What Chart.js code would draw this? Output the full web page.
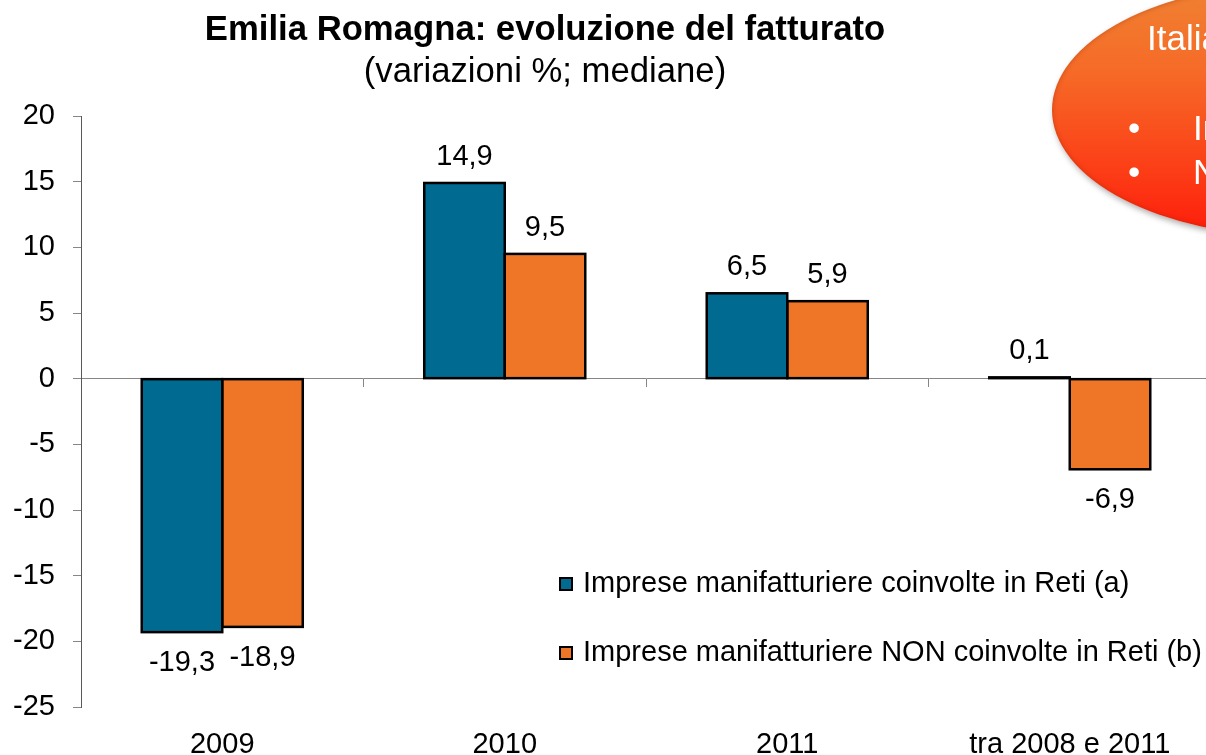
<!DOCTYPE html>
<html lang="it">
<head>
<meta charset="utf-8">
<title>Emilia Romagna: evoluzione del fatturato</title>
<script src="https://cdn.jsdelivr.net/npm/chart.js@4.4.1/dist/chart.umd.min.js"></script>
<style>
  html, body { margin: 0; padding: 0; background: #fff; }
  body { width: 1206px; height: 755px; overflow: hidden; position: relative;
         font-family: "Liberation Sans", Arial, sans-serif; }
  #grafico { position: absolute; left: 0; top: 0; }
  .titolo { position: absolute; left: 0; width: 1090px; text-align: center; color: #000;
            white-space: nowrap; line-height: 40px; font-size: 34.7px; }
  #titolo { top: 8px; font-weight: bold; }
  #sottotitolo { top: 50px; }
  #ovale { position: absolute; left: 1052px; top: -16px; width: 483px; height: 252px;
           border-radius: 50%;
           background: linear-gradient(to bottom, #ef8232 0%, #f66a27 35%, #fc3c16 75%, #ff1c0b 100%);
           box-shadow: 2px 3px 6px rgba(0,0,0,0.35), inset 0 0 5px rgba(140,40,0,0.45); }
  .nota { position: absolute; color: #fff; font-size: 35px; line-height: 36px; white-space: nowrap; }
</style>
</head>
<body>
<canvas id="grafico" width="1500" height="755"></canvas>
<div class="titolo" id="titolo">Emilia Romagna: evoluzione del fatturato</div>
<div class="titolo" id="sottotitolo">(variazioni %; mediane)</div>
<div id="ovale"></div>
<div class="nota" style="left:1147px; top:20px;">Italia</div>
<div class="nota" style="left:1128px; top:110px;">•</div>
<div class="nota" style="left:1193px; top:110px;">In rete</div>
<div class="nota" style="left:1128px; top:154px;">•</div>
<div class="nota" style="left:1193px; top:154px;">Non in rete</div>

<script>
// categorie e valori (variazioni %, mediane)
const categorie = ['2009', '2010', '2011', 'tra 2008 e 2011'];
const inRete = [-19.3, 14.9, 6.5, 0.1];
const nonInRete = [-18.9, 9.5, 5.9, -6.9];
const nomiSerie = ['Imprese manifatturiere coinvolte in Reti (a)',
                   'Imprese manifatturiere NON coinvolte in Reti (b)'];
const tickY = { min: -25, max: 20, passo: 5 };

const FONT = '"Liberation Sans", Arial, sans-serif';

function formatta(v) {
  return v.toFixed(1).replace('.', ',');
}

// bordi neri centrati sul contorno (come in PowerPoint) + etichette dei valori
const etichette = {
  id: 'etichette',
  afterDatasetsDraw(chart) {
    const ctx = chart.ctx;
    ctx.save();
    ctx.lineWidth = 2.5;
    ctx.strokeStyle = '#000';
    chart.data.datasets.forEach((ds, i) => {
      chart.getDatasetMeta(i).data.forEach(bar => {
        const p = bar.getProps(['x', 'y', 'base', 'width'], true);
        const top = Math.min(p.y, p.base);
        const h = Math.abs(p.base - p.y);
        ctx.strokeRect(p.x - p.width / 2, top, p.width, h);
      });
    });
    ctx.font = '29px ' + FONT;
    ctx.fillStyle = '#000';
    ctx.textAlign = 'center';
    ctx.textBaseline = 'middle';
    chart.data.datasets.forEach((ds, i) => {
      chart.getDatasetMeta(i).data.forEach((bar, j) => {
        const v = ds.data[j];
        const y = v >= 0 ? bar.y - 26 : bar.y + 31;
        ctx.fillText(formatta(v), bar.x, y);
      });
    });
    ctx.restore();
  }
};

// legenda dentro l'area del grafico
const legenda = {
  id: 'legenda',
  afterDraw(chart) {
    const ctx = chart.ctx;
    ctx.save();
    ctx.font = '29px ' + FONT;
    ctx.textAlign = 'left';
    ctx.textBaseline = 'middle';
    chart.data.datasets.forEach((ds, i) => {
      const y = 584 + i * 69;
      ctx.fillStyle = ds.backgroundColor;
      ctx.fillRect(560, y - 6, 12, 12);
      ctx.lineWidth = 2;
      ctx.strokeStyle = '#000';
      ctx.strokeRect(560, y - 6, 12, 12);
      ctx.fillStyle = '#000';
      ctx.fillText(ds.label, 583, y);
    });
    ctx.restore();
  }
};

const ctx = document.getElementById('grafico').getContext('2d');
const grafico = new Chart(ctx, {
  type: 'bar',
  data: {
    labels: categorie,
    datasets: [
      { label: nomiSerie[0], data: inRete, backgroundColor: '#006a91' },
      { label: nomiSerie[1], data: nonInRete, backgroundColor: '#ef7527' }
    ]
  },
  options: {
    responsive: false,
    animation: false,
    locale: 'it-IT',
    layout: { padding: { top: 116, left: 0, right: 289, bottom: 0 } },
    datasets: {
      bar: {
        categoryPercentage: 0.57,
        barPercentage: 1,
        borderWidth: 0
      }
    },
    plugins: {
      legend: { display: false },
      title: { display: false },
      tooltip: { enabled: false }
    },
    scales: {
      x: {
        grid: { display: false, drawTicks: false },
        border: { display: false },
        ticks: { font: { size: 29, family: FONT }, color: '#000', padding: 21,
                 maxRotation: 0, autoSkip: false },
        afterFit(s) { s.height = 48; }
      },
      x2: {
        type: 'category',
        position: { y: 0 },
        offset: true,
        grid: { offset: true, drawOnChartArea: false, drawTicks: true, tickLength: 8, color: '#868686' },
        border: { display: true, color: '#868686', width: 1 },
        ticks: { display: false }
      },
      y: {
        min: tickY.min,
        max: tickY.max,
        ticks: { stepSize: tickY.passo, font: { size: 29, family: FONT }, color: '#000', padding: 18 },
        grid: { drawOnChartArea: false, drawTicks: true, tickLength: 8, color: '#868686' },
        border: { color: '#595959', width: 1 },
        afterFit(s) { s.width = 81; }
      }
    }
  },
  plugins: [etichette, legenda]
});
</script>
</body>
</html>
